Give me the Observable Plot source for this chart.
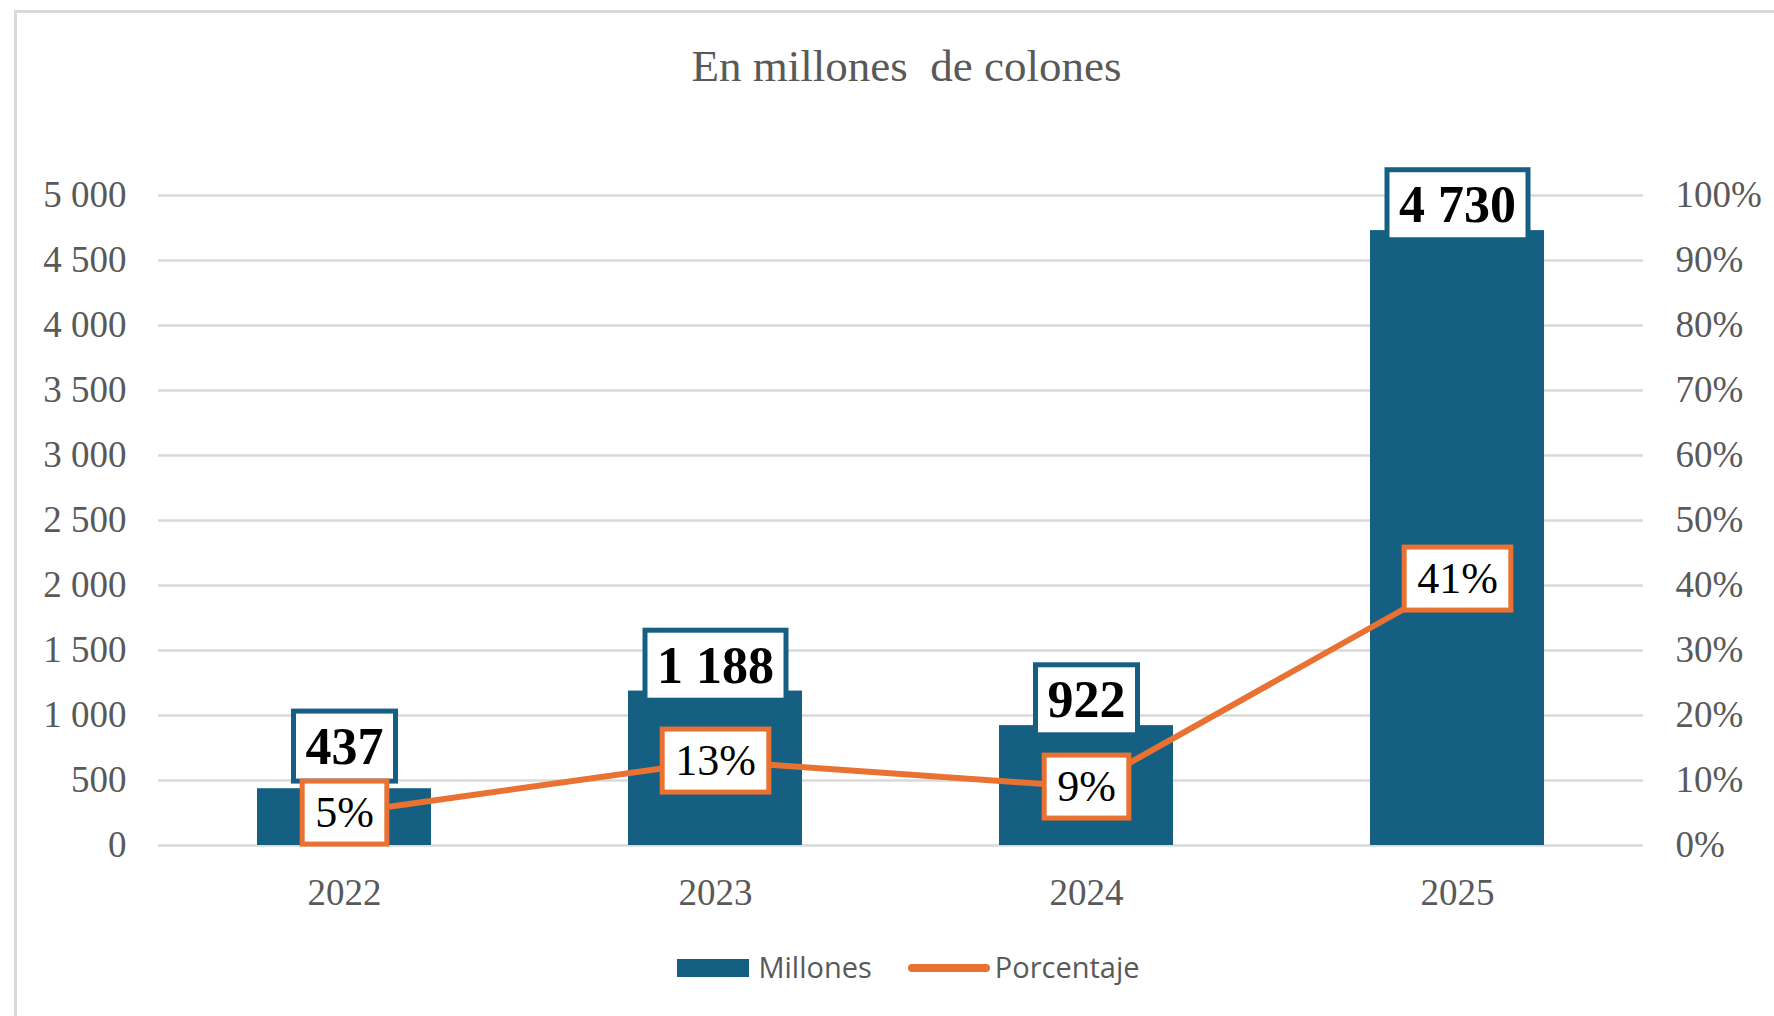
<!DOCTYPE html>
<html>
<head>
<meta charset="utf-8">
<script src="https://cdn.jsdelivr.net/npm/d3@7"></script>
<script src="https://cdn.jsdelivr.net/npm/@observablehq/plot@0.6"></script>
<style>
html, body { margin: 0; padding: 0; background: #fff; }
#wrap { position: relative; width: 1774px; height: 1016px; overflow: hidden; background: #fff; }
#frame { position: absolute; left: 14px; top: 10px; width: 2000px; height: 1200px;
  border-left: 3px solid #d9d9d9; border-top: 3px solid #d9d9d9; }
#chart { position: absolute; left: 0; top: 0; }
#title { position: absolute; left: 0; top: 44px; width: 1774px; box-sizing: border-box; padding-left: 39px;
  text-align: center; font-family: "Liberation Serif", serif; font-size: 45px; line-height: 45px;
  color: #595959; white-space: pre; }
#legend { position: absolute; left: 0; top: 948px; width: 1774px; height: 40px; box-sizing: border-box;
  padding-left: 43px; display: flex; justify-content: center; align-items: center;
  font-family: "Open Sans", sans-serif; font-size: 29px; color: #595959; }
#legend .item { display: flex; align-items: center; }
#legend .sw { display: inline-block; width: 72px; height: 18px; background: #156082; margin-right: 9px; }
#legend .ln { display: inline-block; width: 82px; height: 8px; border-radius: 4px; background: #E97132; margin-right: 5px; }
#legend .lbl { position: relative; top: -2px; line-height: 29px; }
</style>
</head>
<body>
<div id="wrap">
  <div id="frame"></div>
  <div id="chart"></div>
  <div id="title"></div>
  <div id="legend"></div>
</div>
<script>
// ---- data ----
const years = ["2022", "2023", "2024", "2025"];
const millones = [437, 1188, 922, 4730];
const porcentaje = [0.05, 0.13, 0.09, 0.41];
const leftTicks = [0, 500, 1000, 1500, 2000, 2500, 3000, 3500, 4000, 4500, 5000];
const rightTickLabels = ["0%", "10%", "20%", "30%", "40%", "50%", "60%", "70%", "80%", "90%", "100%"];
const titleText = "En millones  de colones";
const seriesNames = ["Millones", "Porcentaje"];

const yMax = 5000; // left axis max == 100% on right axis
const data = years.map((year, i) => ({year, millones: millones[i], pct: porcentaje[i]}));
const fmt = v => d3.format(",")(v).replace(/,/g, " ");
const pctFmt = v => Math.round(v * 100) + "%";
const BLUE = "#156082", ORANGE = "#E97132";

const plot = Plot.plot({
  width: 1774,
  height: 940,
  marginLeft: 158,
  marginRight: 131,
  marginTop: 195,
  marginBottom: 95,
  style: {fontFamily: '"Liberation Serif", serif', color: "#595959", background: "transparent"},
  x: {type: "band", domain: years, paddingInner: 0.53, paddingOuter: 0.265},
  y: {domain: [0, yMax]},
  marks: [
    Plot.gridY({ticks: leftTicks, stroke: "#d9d9d9", strokeOpacity: 1, strokeWidth: 2.5}),
    Plot.axisY({anchor: "left", ticks: leftTicks, tickSize: 0, tickPadding: 32, tickFormat: fmt, fontSize: 37, label: null}),
    Plot.axisY({anchor: "right", ticks: leftTicks, tickSize: 0, tickPadding: 32,
      tickFormat: d => rightTickLabels[leftTicks.indexOf(d)], fontSize: 37, label: null}),
    Plot.axisX({tickSize: 0, tickPadding: 33, fontSize: 37, label: null}),
    Plot.barY(data, {x: "year", y: "millones", fill: BLUE}),
    Plot.text(data, {x: "year", y: "millones", text: d => fmt(d.millones), dy: -25,
      fontSize: 52, fontWeight: "bold", fill: "#000"}),
    Plot.line(data, {x: "year", y: d => d.pct * yMax, stroke: ORANGE, strokeWidth: 6}),
    Plot.text(data, {x: "year", y: d => d.pct * yMax, text: d => pctFmt(d.pct),
      fontSize: 44, fill: "#000"})
  ]
});
document.getElementById("chart").appendChild(plot);

// boxes behind data labels (sized from the rendered text)
const SVGNS = "http://www.w3.org/2000/svg";
const labelGroups = plot.querySelectorAll('g[aria-label="text"]');
const boxStyles = [
  {stroke: BLUE, padX: 12, h: 70},
  {stroke: ORANGE, padX: 13, h: 63}
];
const boxes = [[], []];
labelGroups.forEach((g, gi) => {
  const s = boxStyles[gi];
  if (!s) return;
  g.querySelectorAll("text").forEach(t => {
    const bb = t.getBBox();
    const r = document.createElementNS(SVGNS, "rect");
    r.setAttribute("x", bb.x - s.padX);
    r.setAttribute("y", bb.y + bb.height / 2 - s.h / 2);
    r.setAttribute("width", bb.width + 2 * s.padX);
    r.setAttribute("height", s.h);
    r.setAttribute("fill", "#fff");
    r.setAttribute("stroke", s.stroke);
    r.setAttribute("stroke-width", 5);
    const tr = t.getAttribute("transform");
    if (tr) r.setAttribute("transform", tr);
    g.insertBefore(r, t);
    boxes[gi].push({t, r});
  });
});
// lift a value label above its percentage label when they would collide
boxes[0].forEach((vb, i) => {
  const pb = boxes[1][i];
  if (!pb) return;
  const vr = vb.r.getBoundingClientRect();
  const pr = pb.r.getBoundingClientRect();
  const overlap = vr.bottom - pr.top;
  if (overlap > 0) {
    for (const el of [vb.t, vb.r]) {
      el.setAttribute("transform", `translate(0,${-overlap}) ` + (el.getAttribute("transform") || ""));
    }
  }
});

document.getElementById("title").textContent = titleText;
const legend = document.getElementById("legend");
legend.innerHTML =
  `<span class="item"><span class="sw"></span><span class="lbl">${seriesNames[0]}</span></span>` +
  `<span class="item" style="margin-left:36px"><span class="ln"></span><span class="lbl">${seriesNames[1]}</span></span>`;
</script>
</body>
</html>
